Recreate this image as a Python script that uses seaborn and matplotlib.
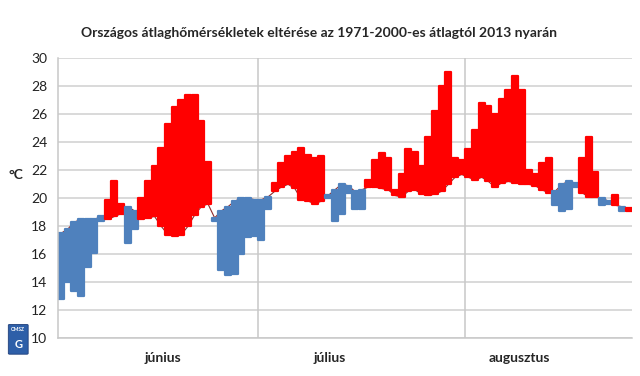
import numpy as np
import pandas as pd
import matplotlib
matplotlib.use("Agg")
import matplotlib.pyplot as plt
import seaborn as sns
from matplotlib.patches import FancyBboxPatch

# napi országos középhőmérséklet, 2013. jún. 1 - aug. 25 (°C)
normal = [17.5, 17.8, 18.3, 18.5, 18.5, 18.5, 18.7, 18.5, 18.7, 18.9,
          19.4, 19.1, 18.5, 18.6, 18.7, 18.0, 17.4, 17.3, 17.4, 18.0,
          18.8, 19.4, 19.6, 18.6, 19.1, 19.4, 19.8, 20.0, 20.0, 19.9,
          19.9, 20.1, 20.5, 20.8, 21.0, 20.7, 19.9, 19.8, 19.6, 19.8,
          20.2, 20.6, 21.0, 20.9, 20.5, 20.6, 20.8, 20.8, 20.7, 20.6,
          20.2, 20.1, 20.5, 20.6, 20.3, 20.2, 20.3, 20.5, 21.0, 21.5,
          21.7, 21.5, 21.3, 21.5, 21.2, 20.8, 21.1, 21.2, 21.1, 21.0,
          21.0, 20.9, 20.6, 20.4, 20.5, 21.0, 21.2, 21.1, 20.4, 20.1,
          20.1, 20.0, 19.8, 19.5, 19.4, 19.1]
actual = [12.8, 14.0, 13.4, 13.0, 15.1, 16.1, 18.4, 19.9, 21.2, 19.6,
          16.8, 17.8, 20.0, 21.2, 22.3, 23.6, 25.3, 26.5, 27.0, 27.4,
          27.4, 25.5, 22.6, 18.4, 14.9, 14.5, 14.6, 16.0, 17.2, 17.3,
          17.0, 19.2, 21.1, 22.5, 23.0, 23.3, 23.6, 23.1, 22.9, 23.0,
          20.0, 18.4, 18.9, 20.4, 19.2, 19.2, 21.3, 22.7, 23.2, 22.9,
          20.6, 21.7, 23.5, 23.3, 22.3, 24.4, 26.2, 28.0, 29.0, 22.9,
          22.7, 23.5, 24.9, 26.8, 26.6, 26.0, 27.1, 27.7, 28.7, 27.7,
          22.0, 21.7, 22.5, 22.9, 19.5, 19.1, 19.2, 20.8, 22.9, 24.4,
          21.9, 19.5, 19.6, 20.2, 19.1, 19.3]
months = ["június", "július", "augusztus"]
month_days = [30, 31, 25]

df = pd.DataFrame({"day": np.arange(len(normal)), "normal": normal, "actual": actual})
df["low"] = df[["normal", "actual"]].min(axis=1)
df["high"] = df[["normal", "actual"]].max(axis=1)
df["color"] = np.where(df["actual"] > df["normal"], "#FF0000", "#4F81BD")

sns.set_style("white")
plt.rcParams["font.family"] = ["Lato", "DejaVu Sans"]

fig = plt.figure(figsize=(6.4, 3.76), dpi=100)
ax = fig.add_axes([0.0902, 0.1003, 0.8973, 0.7447])

# rácsvonalak
for v in range(10, 31, 2):
    ax.axhline(v, color="#D0D0D0", lw=1.1, zorder=0)
bounds = np.cumsum(month_days)[:-1] - 0.5
for b in bounds:
    ax.axvline(b, color="#C8C8C8", lw=1.1, zorder=0)

sns.lineplot(data=df, x="day", y="normal", color="#8E2A2A", lw=0.8, ax=ax, zorder=1)
ax.bar(df["day"], df["high"] - df["low"], bottom=df["low"], width=0.9,
       color=df["color"], edgecolor=df["color"], linewidth=1.6,
       joinstyle="round", zorder=2)

ax.set_xlim(-0.5, sum(month_days) - 0.5)
ax.set_ylim(10, 30)
ax.set_yticks(range(10, 31, 2))
ax.tick_params(axis="y", labelsize=10, length=4, color="#BFBFBF", labelcolor="#222222")
label_pos = [15.3, 40.3, 68.7]
ax.set_xticks(label_pos, months)
ax.tick_params(axis="x", length=0, labelsize=10, pad=10)
for t in ax.get_xticklabels():
    t.set_fontweight("bold")
ax.set_xlabel("")
ax.set_ylabel("")

for s in ["top", "right"]:
    ax.spines[s].set_visible(False)
for s in ["left", "bottom"]:
    ax.spines[s].set_color("#C8C8C8")
    ax.spines[s].set_linewidth(1.1)

fig.text(0.499, 0.912, "Országos átlaghőmérsékletek eltérése az 1971-2000-es átlagtól 2013 nyarán",
         ha="center", va="center", fontsize=10, fontweight="bold")
fig.text(0.025, 0.535, "°C", ha="center", va="center", fontsize=10, fontweight="bold")

# OMSZ logó
logo = FancyBboxPatch((0.015, 0.06), 0.027, 0.075, boxstyle="round,pad=0.002",
                      transform=fig.transFigure, facecolor="#2E5FA8", edgecolor="#1F3F7A", lw=0.6)
fig.patches.append(logo)
fig.text(0.0285, 0.123, "OMSZ", ha="center", va="center", fontsize=3.5, color="white", fontweight="bold")
fig.text(0.0285, 0.085, "G", ha="center", va="center", fontsize=8, color="white", fontweight="bold")

fig.savefig("out.png", dpi=100)
